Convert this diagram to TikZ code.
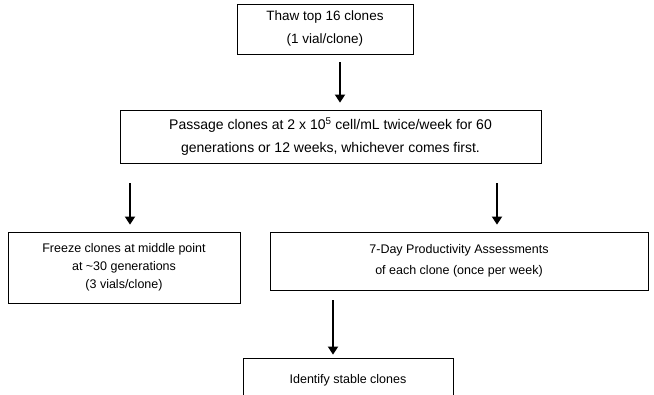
\documentclass[tikz,border=0pt]{standalone}
\usepackage{fontspec}
\setmainfont{Liberation Sans}
\usetikzlibrary{arrows.meta}
\begin{document}
\begin{tikzpicture}[x=1pt,y=-1pt,
  box/.style={draw=black, line width=0.8pt, inner sep=0pt, align=center,
    font=\fontsize{13.5}{23}\selectfont},
  arr/.style={line width=1.8pt, -{Triangle[width=10pt,length=8pt]}}]
\useasboundingbox (0,0) rectangle (654,395);
\node[box, minimum width=176pt, minimum height=50pt] (top) at (325,29)
  {Thaw top 16 clones\\(1 vial/clone)};
\node[box, minimum width=421pt, minimum height=53pt, font=\fontsize{14}{23}\selectfont] (pass) at (330.5,136.5)
  {Passage clones at 2 x 10\textsuperscript{5} cell/mL twice/week for 60\\generations or 12 weeks, whichever comes first.};
\node[box, minimum width=232pt, minimum height=71pt, font=\fontsize{12.5}{18}\selectfont] (freeze) at (124,267.5)
  {Freeze clones at middle point\\at \textasciitilde30 generations\\(3 vials/clone)};
\node[box, minimum width=378pt, minimum height=58pt, font=\fontsize{12.5}{21}\selectfont] (assess) at (459,261)
  {7-Day Productivity Assessments\\of each clone (once per week)};
\node[box, minimum width=210pt, minimum height=44pt, font=\fontsize{12.5}{23}\selectfont] (ident) at (348,380)
  {Identify stable clones};
\coordinate (x1) at (340,0);
\coordinate (x2) at (130,0);
\coordinate (x3) at (497,0);
\coordinate (x4) at (333,0);
\draw[arr, shorten <=8pt, shorten >=7pt] (top.south -| x1) -- (pass.north -| x1);
\draw[arr, shorten <=20pt, shorten >=7pt] (pass.south -| x2) -- (freeze.north -| x2);
\draw[arr, shorten <=20pt, shorten >=7pt] (pass.south -| x3) -- (assess.north -| x3);
\draw[arr, shorten <=10pt, shorten >=3pt] (assess.south -| x4) -- (ident.north -| x4);
\end{tikzpicture}
\end{document}
